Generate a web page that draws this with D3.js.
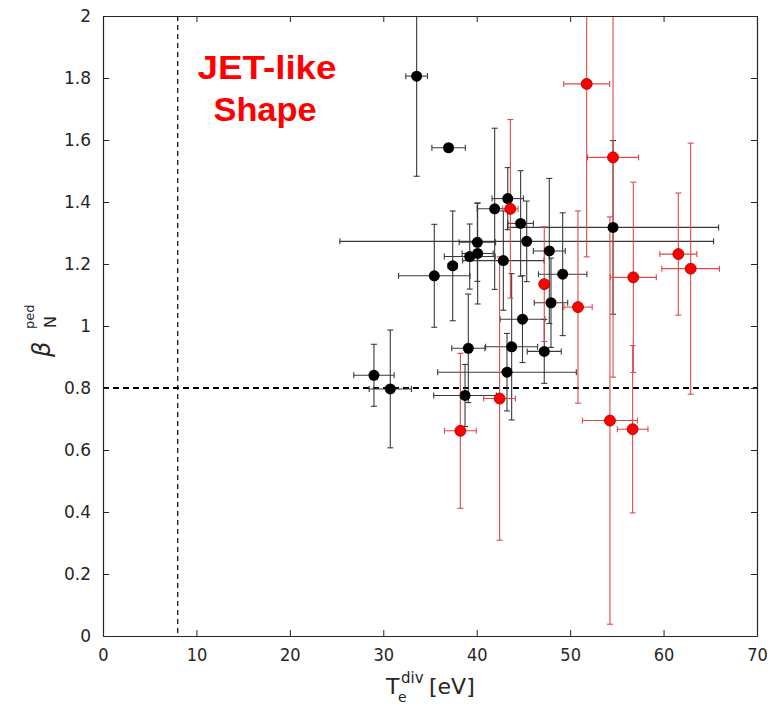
<!DOCTYPE html>
<html>
<head>
<meta charset="utf-8">
<script src="https://cdn.jsdelivr.net/npm/d3@7"></script>
<style>
  body { margin: 0; background: #fff; }
  text { font-family: "DejaVu Sans", sans-serif; }
</style>
</head>
<body>
<svg width="781" height="707"></svg>
<script>
// Black series (T_e^div [eV], beta_N^ped, and symmetric errors)
var blackTe      = [33.57, 36.99, 43.32, 41.92, 44.70, 45.35, 40.07, 40.10, 39.25, 37.43, 35.46, 42.85,
                    47.77, 49.20, 47.95, 44.90, 39.10, 43.74, 47.23, 43.24, 29.00, 30.75, 38.75, 54.59];
var blackBeta    = [1.806, 1.575, 1.411, 1.378, 1.331, 1.273, 1.270, 1.234, 1.224, 1.194, 1.162, 1.211,
                    1.242, 1.167, 1.075, 1.022, 0.928, 0.933, 0.918, 0.851, 0.841, 0.797, 0.776, 1.318];
var blackTeErr   = [1.16, 1.79, 1.68, 1.87, 1.37, 20.0, 1.95, 1.66, 2.72, 0.5, 3.82, 4.36,
                    1.71, 2.59, 1.79, 2.4, 1.77, 2.78, 1.82, 7.42, 2.16, 2.26, 3.35, 11.3];
var blackBetaErr = [0.323, 0.01, 0.10, 0.26, 0.17, 0.13, 0.126, 0.163, 0.105, 0.177, 0.166, 0.16,
                    0.234, 0.198, 0.144, 0.14, 0.175, 0.236, 0.103, 0.125, 0.10, 0.19, 0.10, 0.28];

// Red series
var redTe      = [43.6, 42.45, 38.25, 47.23, 50.84, 51.77, 54.59, 54.26, 56.76, 56.69, 61.58, 62.9];
var redBeta    = [1.378, 0.766, 0.662, 1.135, 1.061, 1.781, 1.544, 0.695, 1.157, 0.667, 1.232, 1.185];
var redTeErr   = [0.83, 1.7, 1.7, 0.4, 1.52, 2.46, 2.73, 2.94, 2.46, 1.64, 1.98, 3.08];
var redBetaErr = [0.288, 0.457, 0.25, 0.185, 0.31, 0.558, 0.709, 0.657, 0.307, 0.27, 0.197, 0.405];

var xTicks = [0, 10, 20, 30, 40, 50, 60, 70];
var yTicks = [0, 0.2, 0.4, 0.6, 0.8, 1, 1.2, 1.4, 1.6, 1.8, 2];

var betaLimit = 0.8;
var teLimit = 8;

var svg = d3.select('svg');
var padding = {l: 103, r: 24, t: 16, b: 71};
var width = 781 - padding.l - padding.r;
var height = 707 - padding.t - padding.b;

var x = d3.scaleLinear().domain([0, 70]).range([0, width]);
var y = d3.scaleLinear().domain([0, 2]).range([height, 0]);

var g = svg.append('g')
    .attr('transform', 'translate(' + [padding.l, padding.t] + ')');

g.append('clipPath').attr('id', 'plotClip')
  .append('rect').attr('width', width).attr('height', height);

function buildRows(te, beta, teErr, betaErr) {
    return te.map(function(d, i) {
        return {te: d, beta: beta[i], dx: teErr[i], dy: betaErr[i]};
    });
}
var blackRows = buildRows(blackTe, blackBeta, blackTeErr, blackBetaErr);
var redRows = buildRows(redTe, redBeta, redTeErr, redBetaErr);

var plot = g.append('g').attr('clip-path', 'url(#plotClip)');

// reference lines
plot.append('line')
    .attr('x1', 0).attr('x2', width)
    .attr('y1', y(betaLimit)).attr('y2', y(betaLimit))
    .attr('stroke', '#000').attr('stroke-width', 2)
    .attr('stroke-dasharray', '6,4');
plot.append('line')
    .attr('x1', x(teLimit)).attr('x2', x(teLimit))
    .attr('y1', 0).attr('y2', height)
    .attr('stroke', '#000').attr('stroke-width', 1.2)
    .attr('stroke-dasharray', '5,4');

var cap = 3;
function drawErrors(rows, color) {
    var eg = plot.append('g').attr('stroke', color).attr('stroke-width', 1.1).attr('fill', 'none');
    rows.forEach(function(d) {
        var cx = x(d.te), cy = y(d.beta);
        var x0 = x(d.te - d.dx), x1 = x(d.te + d.dx);
        var y0 = y(d.beta - d.dy), y1 = y(d.beta + d.dy);
        eg.append('line').attr('x1', cx).attr('x2', cx).attr('y1', y0).attr('y2', y1);
        eg.append('line').attr('x1', cx - cap).attr('x2', cx + cap).attr('y1', y0).attr('y2', y0);
        eg.append('line').attr('x1', cx - cap).attr('x2', cx + cap).attr('y1', y1).attr('y2', y1);
        eg.append('line').attr('x1', x0).attr('x2', x1).attr('y1', cy).attr('y2', cy);
        eg.append('line').attr('x1', x0).attr('x2', x0).attr('y1', cy - cap).attr('y2', cy + cap);
        eg.append('line').attr('x1', x1).attr('x2', x1).attr('y1', cy - cap).attr('y2', cy + cap);
    });
}
drawErrors(blackRows, '#3a3a3a');
drawErrors(redRows, '#dd4a4a');

plot.selectAll('.blackDot').data(blackRows).enter()
  .append('circle').attr('class', 'blackDot')
    .attr('cx', function(d) { return x(d.te); })
    .attr('cy', function(d) { return y(d.beta); })
    .attr('r', 5.5)
    .attr('fill', '#000');

plot.selectAll('.redDot').data(redRows).enter()
  .append('circle').attr('class', 'redDot')
    .attr('cx', function(d) { return x(d.te); })
    .attr('cy', function(d) { return y(d.beta); })
    .attr('r', 5.5)
    .attr('fill', '#ff0000')
    .attr('stroke', '#a00000').attr('stroke-width', 0.8);

// axes (ticks inside, box on)
var axisColor = '#262626';
var xAxis = g.append('g').attr('transform', 'translate(0,' + height + ')')
    .call(d3.axisBottom(x).tickValues(xTicks).tickSizeInner(-6).tickSizeOuter(0).tickPadding(12));
var yAxis = g.append('g')
    .call(d3.axisLeft(y).tickValues(yTicks).tickSizeInner(-6).tickSizeOuter(0).tickPadding(12)
        .tickFormat(function(d) { return d3.format('')(d); }));
g.append('g').call(d3.axisTop(x).tickValues(xTicks).tickSizeInner(-6).tickSizeOuter(0).tickFormat(''));
g.append('g').attr('transform', 'translate(' + width + ',0)')
    .call(d3.axisRight(y).tickValues(yTicks).tickSizeInner(-6).tickSizeOuter(0).tickFormat(''));

g.selectAll('.domain').attr('stroke', axisColor).attr('stroke-width', 1.2);
g.selectAll('.tick line').attr('stroke', axisColor);
xAxis.selectAll('text').attr('font-size', 18).attr('fill', axisColor)
    .style('font-family', '"DejaVu Sans Condensed", "DejaVu Sans", sans-serif');
yAxis.selectAll('text').attr('font-size', 17).attr('fill', axisColor);

// x axis label: T_e^div [eV]
var xl = svg.append('g').attr('fill', axisColor)
    .style('font-family', '"DejaVu Sans Condensed", "DejaVu Sans", sans-serif');
xl.append('text').attr('x', 386).attr('y', 694).attr('font-size', 22).text('T');
xl.append('text').attr('x', 401).attr('y', 683).attr('font-size', 15).text('div');
xl.append('text').attr('x', 398).attr('y', 702).attr('font-size', 14).text('e');
xl.append('text').attr('x', 429).attr('y', 694).attr('font-size', 22).text('[eV]');

// y axis label: beta_N^ped (rotated)
var yl = svg.append('g').attr('fill', axisColor)
    .attr('transform', 'translate(50,357) rotate(-90)');
yl.append('text').attr('x', 0).attr('y', 0).attr('font-size', 24)
    .attr('font-style', 'italic').text('\u03B2');
yl.append('text').attr('x', 28).attr('y', -16).attr('font-size', 13).text('ped');
yl.append('text').attr('x', 29).attr('y', 6).attr('font-size', 16).text('N');

// annotation
var note = svg.append('g')
    .attr('fill', '#ff0000')
    .attr('font-weight', 'bold')
    .attr('font-size', 34)
    .style('font-family', '"Liberation Sans", Arial, sans-serif');
note.append('text').attr('x', 267).attr('y', 79).attr('text-anchor', 'middle')
    .attr('textLength', 139).attr('lengthAdjust', 'spacingAndGlyphs')
    .style('font-family', '"Liberation Sans", Arial, sans-serif').text('JET-like');
note.append('text').attr('x', 265).attr('y', 121).attr('text-anchor', 'middle')
    .attr('textLength', 103).attr('lengthAdjust', 'spacingAndGlyphs')
    .style('font-family', '"Liberation Sans", Arial, sans-serif').text('Shape');
</script>
</body>
</html>
